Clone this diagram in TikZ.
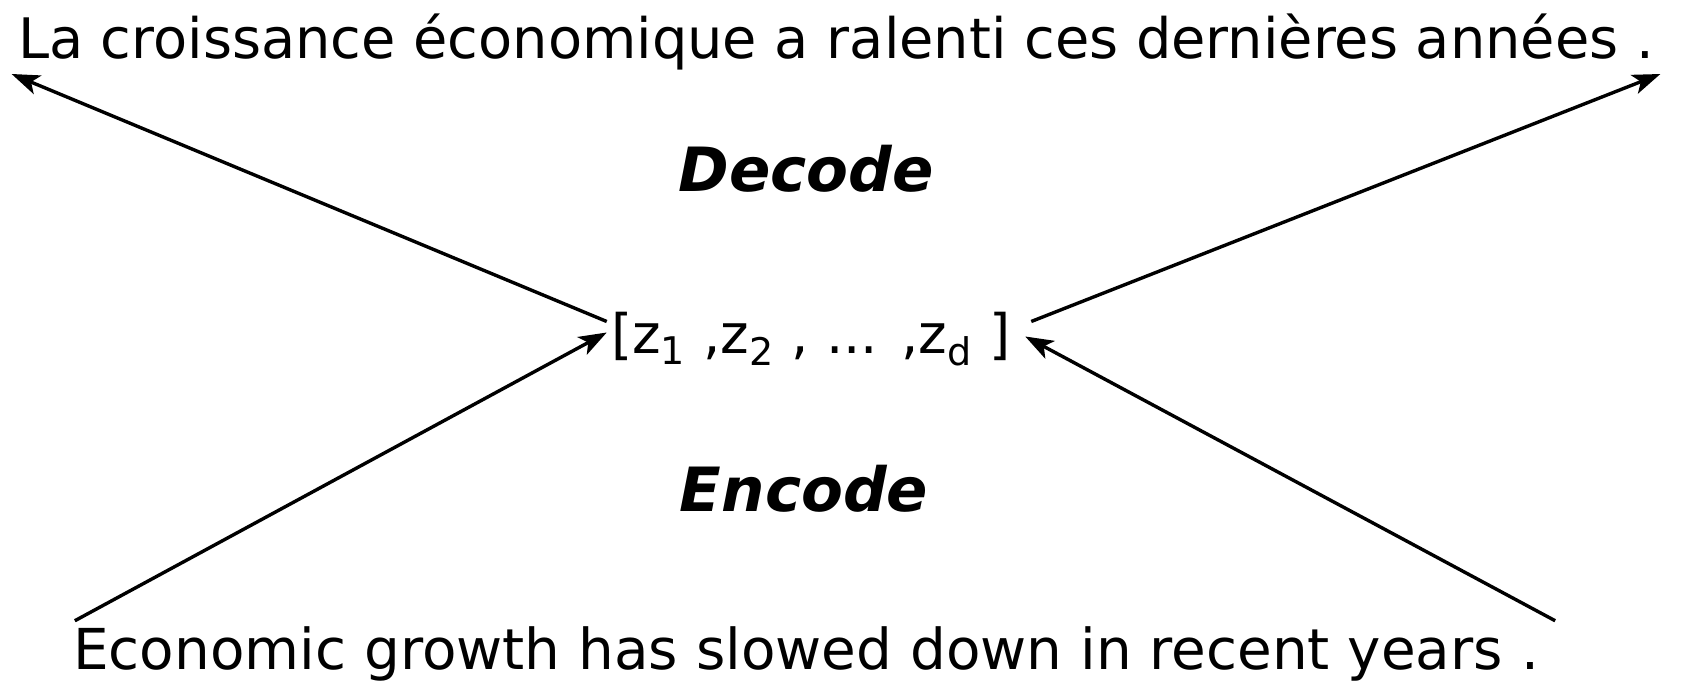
\documentclass[tikz,border=0pt]{standalone}
\usepackage{fontspec}
\setmainfont{DejaVu Sans}
\usepackage{tikz}
\usetikzlibrary{positioning,calc,arrows.meta}
\tikzstyle{arrow} = [-{Stealth[length=14pt,width=10pt,inset=3.5pt]}, line width=1.7pt]
\tikzstyle{sentence} = [inner sep=3pt, anchor=base, font=\fontsize{27.9}{33}\selectfont]
\tikzstyle{stage} = [inner sep=3pt, anchor=base, font=\fontsize{30.5}{36}\selectfont\bfseries\itshape]

\begin{document}
\begin{tikzpicture}[x=0.5pt, y=-0.5pt]
    \useasboundingbox (0,0) rectangle (1682,683);

    % Sentences
    \node[sentence] (target) at (836,59) {La croissance économique a ralenti ces dernières années .};
    \node[sentence, font=\fontsize{28.2}{33}\selectfont] (source) at (806,670) {Economic growth has slowed down in recent years .};

    % Latent vector
    \node[sentence, font=\fontsize{27.2}{33}\selectfont] (latent) at (811,354) {[z\textsubscript{1} ,z\textsubscript{2} , ... ,z\textsubscript{d} ]};

    % Labels
    \node[stage] (decode) at (806,192) {Decode};
    \node[stage] (encode) at (804,512) {Encode};

    % Encoder
    \draw[arrow] ([shift={(8,0)}]source.north west) -- ([shift={(2,-7)}]latent.west);
    \draw[arrow] ([shift={(10,0)}]source.north east) -- ([shift={(8,-3)}]latent.east);

    % Decoder
    \draw[arrow] ([shift={(2,-18)}]latent.west) -- ([shift={(0,-3)}]target.south west);
    \draw[arrow] ([shift={(14,-18)}]latent.east) -- ([shift={(0,-3)}]target.south east);
\end{tikzpicture}
\end{document}
